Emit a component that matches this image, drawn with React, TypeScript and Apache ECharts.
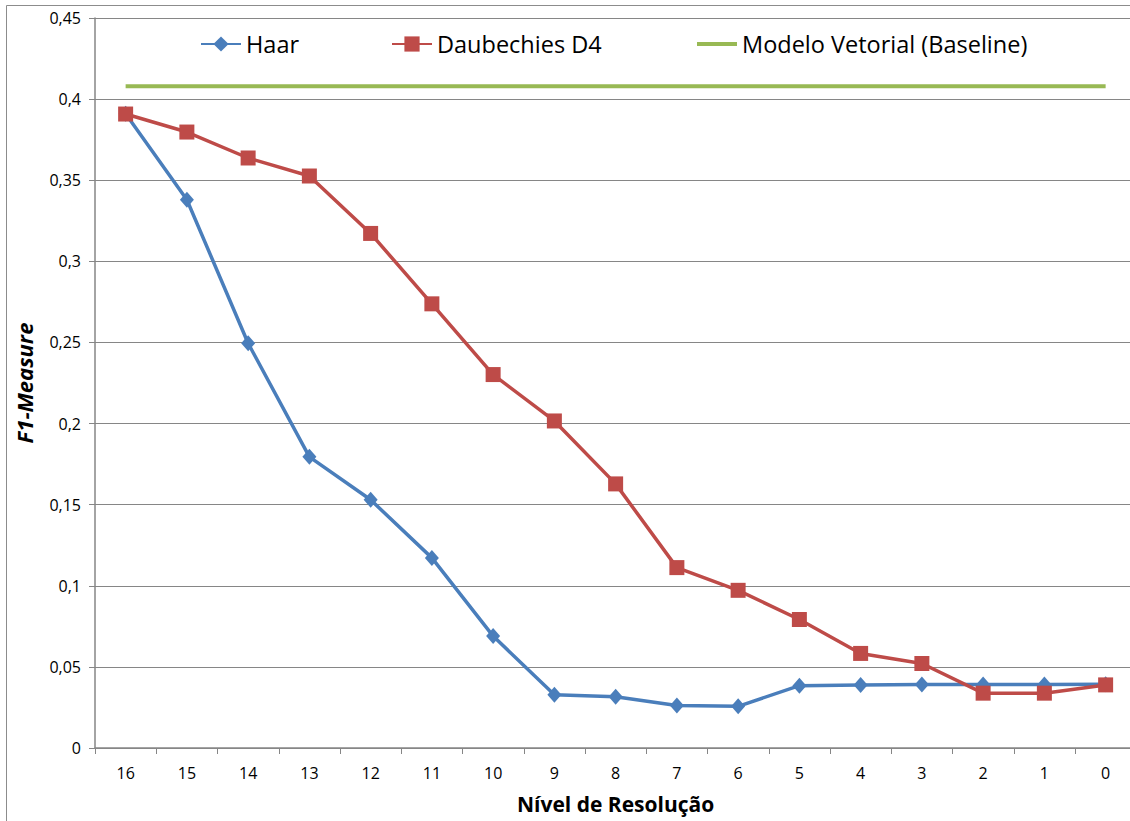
import React, { useEffect, useRef } from "react";
import * as echarts from "echarts";

const levels = ["16", "15", "14", "13", "12", "11", "10", "9", "8", "7", "6", "5", "4", "3", "2", "1", "0"];
const haar = [0.391, 0.338, 0.2495, 0.1795, 0.153, 0.1172, 0.069, 0.0328, 0.0316, 0.0262, 0.0257, 0.0384, 0.0389, 0.0391, 0.0391, 0.0391, 0.0393];
const daub = [0.3908, 0.3797, 0.3637, 0.3526, 0.3172, 0.2738, 0.2302, 0.2016, 0.1628, 0.1112, 0.0972, 0.0792, 0.0583, 0.0521, 0.0338, 0.0338, 0.0389];
const baseline = [0.408, 0.408, 0.408, 0.408, 0.408, 0.408, 0.408, 0.408, 0.408, 0.408, 0.408, 0.408, 0.408, 0.408, 0.408, 0.408, 0.408];
const seriesNames = ["Haar", "Daubechies D4", "Modelo Vetorial (Baseline)"];

export default function App() {
  const ref = useRef<HTMLDivElement>(null);
  useEffect(() => {
    if (!ref.current) return;
    const chart = echarts.init(ref.current, null, { renderer: "svg" });
    const font = "'Open Sans', 'Liberation Sans', sans-serif";
    const legendText = { fontSize: 23.5, color: "#000", fontFamily: font };
    const mkLegend = (item: any, left: number, h: number, top: number) => ({
      top,
      left,
      itemWidth: 40,
      itemHeight: h,
      itemGap: 0,
      textStyle: legendText,
      data: [item],
    });
    chart.setOption({
      animation: false,
      backgroundColor: "#ffffff",
      textStyle: { fontFamily: font },
      graphic: [
        {
          type: "rect",
          shape: { x: 6.5, y: 5.5, width: 1300, height: 1000 },
          style: { fill: "none", stroke: "#8c8c8c", lineWidth: 1 },
          z: -1,
        },
      ],
      legend: [
        mkLegend({ name: seriesNames[0] }, 195, 19, 27),
        mkLegend({ name: seriesNames[1] }, 386, 19, 27),
        mkLegend({ name: seriesNames[2], icon: "rect" }, 692, 4, 27),
      ],
      grid: { left: 95, top: 18, width: 1041.25, height: 730, containLabel: false },
      xAxis: {
        type: "category",
        data: levels,
        boundaryGap: true,
        name: "Nível de Resolução",
        nameLocation: "middle",
        nameGap: 45,
        nameTextStyle: { fontSize: 21, fontWeight: "bold", color: "#000", fontFamily: font },
        axisLine: { lineStyle: { color: "#868686", width: 1.5 } },
        axisTick: { show: true, length: 6, lineStyle: { color: "#868686" } },
        axisLabel: { fontSize: 16, color: "#000", margin: 17, fontFamily: font },
      },
      yAxis: {
        type: "value",
        min: 0,
        max: 0.45,
        interval: 0.05,
        name: "F1-Measure",
        nameLocation: "middle",
        nameGap: 60,
        nameTextStyle: { fontSize: 22, fontWeight: "bold", fontStyle: "italic", color: "#000", fontFamily: font },
        axisLine: { show: true, lineStyle: { color: "#868686", width: 1.5 } },
        axisTick: { show: true, length: 6, lineStyle: { color: "#868686" } },
        axisLabel: {
          fontSize: 16,
          color: "#000",
          margin: 14,
          fontFamily: font,
          formatter: (v: number) => String(Number(v.toFixed(2))).replace(".", ","),
        },
        splitLine: { show: true, lineStyle: { color: "#868686", width: 1 } },
      },
      series: [
        {
          name: seriesNames[0],
          type: "line",
          data: haar,
          symbol: "diamond",
          symbolSize: [14, 16],
          itemStyle: { color: "#4a7ebb" },
          lineStyle: { color: "#4a7ebb", width: 3.5 },
          z: 3,
        },
        {
          name: seriesNames[1],
          type: "line",
          data: daub,
          symbol: "rect",
          symbolSize: 15,
          itemStyle: { color: "#be4b48" },
          lineStyle: { color: "#be4b48", width: 3.5 },
          z: 4,
        },
        {
          name: seriesNames[2],
          type: "line",
          data: baseline,
          symbol: "none",
          itemStyle: { color: "#98b954" },
          lineStyle: { color: "#98b954", width: 4 },
          z: 2,
        },
      ],
    });
    return () => chart.dispose();
  }, []);
  return (
    <div style={{ position: "absolute", left: 0, top: 0, width: 1130, height: 821, overflow: "hidden", background: "#fff" }}>
      <div ref={ref} style={{ width: 1160, height: 840 }} />
    </div>
  );
}
